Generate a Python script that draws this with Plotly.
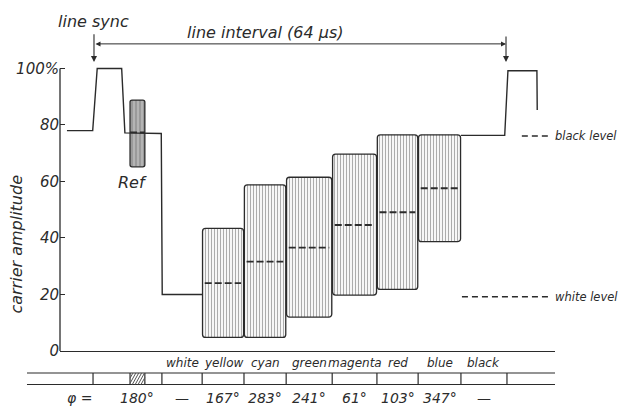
import plotly.graph_objects as go

# time along the line in microseconds, amplitude in % of peak carrier
sig_t = [-4.2, -0.2, 0.5, 4.3, 4.8, 10.45, 10.6, 16.8, None, 57.0, 63.8, 64.3, 68.8, 68.85]
sig_a = [78, 78, 100, 100, 77.2, 77.0, 20, 20, None, 76.3, 76.3, 99.2, 99.2, 85.3]

# segment edges: sync, burst, gap, white, yellow ... blue, black, next sync
edges = [-0.15, 5.6, 7.9, 10.55, 16.8, 23.3, 29.85, 37.0, 43.95, 50.35, 57.0, 64.15]

bar_names = ['yellow', 'cyan', 'green', 'magenta', 'red', 'blue']
bar_top = [43.4, 58.8, 61.5, 69.7, 76.5, 76.5]
bar_bottom = [4.8, 4.8, 12.0, 19.8, 21.8, 38.7]
bar_mid = [24.0, 31.6, 36.6, 44.6, 49.1, 57.6]

ref_top = 88.8
ref_bottom = 65.2
ref_mid = 77.4

cell_names = ['white', 'yellow', 'cyan', 'green', 'magenta', 'red', 'blue', 'black']
# burst, then white ... black
phases = ['180°', '—', '167°', '283°', '241°', '61°', '103°', '347°', '—']

y_ticks = [0, 20, 40, 60, 80, 100]
y_ticktext = ['0', '20', '40', '60', '80', '100%']

black_level = 76.1
white_level = 19.2
line_period = 64

INK = '#2b2b2b'
FONT = 'DejaVu Sans'


def tfont(size):
    return dict(family=FONT, size=size, color=INK, style='italic')


def cell_mid(i):
    return (edges[i] + edges[i + 1]) / 2


fig = go.Figure()

# the video signal itself
fig.add_trace(go.Scatter(x=sig_t, y=sig_a, mode='lines',
                         line=dict(color=INK, width=1.4), hoverinfo='skip'))

# colour bars (carrier envelope, vertical hatching)
lefts = edges[4:10]
rights = edges[5:11]
fig.add_trace(go.Bar(
    x=[(l + r) / 2 for l, r in zip(lefts, rights)],
    width=[r - l - 0.12 for l, r in zip(lefts, rights)],
    base=bar_bottom,
    y=[t - b for t, b in zip(bar_top, bar_bottom)],
    marker=dict(color='white', cornerradius=3,
                line=dict(color=INK, width=1.3),
                pattern=dict(shape='|', size=3, solidity=0.33,
                             fgcolor='#5e5e5e', bgcolor='#f7f7f7')),
    hoverinfo='skip'))

# reference burst
fig.add_trace(go.Bar(
    x=[cell_mid(1)], width=[edges[2] - edges[1]],
    base=[ref_bottom], y=[ref_top - ref_bottom],
    marker=dict(color='#9a9a9a', cornerradius=2,
                line=dict(color=INK, width=1.3),
                pattern=dict(shape='|', size=4, solidity=0.3,
                             fgcolor='#f2f2f2', bgcolor='#9a9a9a')),
    hoverinfo='skip'))

# dashed mean (luminance) levels
dx, dy = [], []
for l, r, m in zip(lefts, rights, bar_mid):
    dx += [l + 0.4, r - 0.45, None]
    dy += [m, m, None]
dx += [edges[1], edges[2], None]
dy += [ref_mid, ref_mid, None]
fig.add_trace(go.Scatter(x=dx, y=dy, mode='lines',
                         line=dict(color=INK, width=1.8, dash='7px,3px'),
                         hoverinfo='skip'))

shapes = []
# y axis line only up to 100 %
shapes.append(dict(type='line', xref='paper', yref='y', x0=0, x1=0, y0=0, y1=100,
                   line=dict(color=INK, width=1.3)))

# table under the chart
tab_top, tab_bot = -0.0641, -0.0977
for yy in (tab_top, tab_bot):
    shapes.append(dict(type='line', xref='paper', yref='paper', x0=-0.0667, x1=1.0,
                       y0=yy, y1=yy, line=dict(color=INK, width=1.2)))
for e in edges:
    shapes.append(dict(type='line', xref='x', yref='paper', x0=e, x1=e,
                       y0=tab_top, y1=tab_bot, line=dict(color=INK, width=1.2)))

# hatching of the burst cell
L, R = edges[1], edges[2]
d = 1.0
x0 = L - d
while x0 < R:
    s0 = max(0, (L - x0) / d)
    s1 = min(1, (R - x0) / d)
    if s1 > s0:
        shapes.append(dict(type='line', xref='x', yref='paper',
                           x0=x0 + d * s0, x1=x0 + d * s1,
                           y0=tab_bot + (tab_top - tab_bot) * s0,
                           y1=tab_bot + (tab_top - tab_bot) * s1,
                           line=dict(color='#555', width=1)))
    x0 += 0.45

# black / white level keys
shapes.append(dict(type='line', xref='paper', yref='y', x0=0.933, x1=0.992,
                   y0=black_level, y1=black_level,
                   line=dict(color=INK, width=1.3, dash='6px,4px')))
shapes.append(dict(type='line', xref='paper', yref='y', x0=0.812, x1=0.992,
                   y0=white_level, y1=white_level,
                   line=dict(color=INK, width=1.3, dash='6px,4px')))

ann = []
ann.append(dict(x=0.996, y=black_level, xref='paper', yref='y', text='black level',
                showarrow=False, xanchor='left', yanchor='middle', font=tfont(11.5)))
ann.append(dict(x=0.996, y=white_level, xref='paper', yref='y', text='white level',
                showarrow=False, xanchor='left', yanchor='middle', font=tfont(11.5)))

# arrows for line sync and line interval
for xa, top in ((0, 112.6), (line_period, 111.8)):
    ann.append(dict(x=xa, y=102.3, ax=xa, ay=top, xref='x', yref='y', axref='x', ayref='y',
                    text='', showarrow=True, arrowhead=2, arrowsize=1.1, arrowwidth=1.1,
                    arrowcolor=INK, standoff=0))
ann.append(dict(x=line_period, y=108.7, ax=0, ay=108.7, xref='x', yref='y', axref='x',
                ayref='y', text='', showarrow=True, arrowhead=2, arrowside='end+start',
                arrowsize=1.0, arrowwidth=1.0, arrowcolor=INK, standoff=0, startstandoff=0,
                startarrowhead=2, startarrowsize=1.0))
ann.append(dict(x=0, y=116.6, xref='x', yref='y', text='line sync', showarrow=False,
                xanchor='center', yanchor='middle', font=tfont(16)))
ann.append(dict(x=26.6, y=112.6, xref='x', yref='y', text='line interval (64 µs)',
                showarrow=False, xanchor='center', yanchor='middle', font=tfont(16)))
ann.append(dict(x=5.98, y=59.5, xref='x', yref='y', text='Ref', showarrow=False,
                xanchor='center', yanchor='middle', font=tfont(16)))
ann.append(dict(x=-0.087, y=38, xref='paper', yref='y', text='carrier amplitude',
                textangle=-90, showarrow=False, xanchor='center', yanchor='middle',
                font=tfont(16)))

# colour names and phase angles in the table
for i, name in enumerate(cell_names):
    ann.append(dict(x=cell_mid(3 + i), y=-0.035, xref='x', yref='paper',
                    text=name, showarrow=False, xanchor='center', yanchor='middle',
                    font=tfont(12)))
ann.append(dict(x=-2.2, y=-0.137, xref='x', yref='paper', text='φ =', showarrow=False,
                xanchor='center', yanchor='middle', font=tfont(14)))
for i, ph in enumerate(phases):
    ann.append(dict(x=cell_mid(1) if i == 0 else cell_mid(2 + i),
                    y=-0.137, xref='x', yref='paper', text=ph, showarrow=False,
                    xanchor='center', yanchor='middle', font=tfont(14)))

# the page body adds an 8 px offset, so the figure is 8 px smaller on each axis
fig.update_layout(
    width=621, height=398,
    margin=dict(l=52, r=74, t=0, b=55),
    paper_bgcolor='white', plot_bgcolor='white',
    showlegend=False, barmode='overlay',
    shapes=shapes, annotations=ann,
    xaxis=dict(range=[-5.28, 71.61], showgrid=False, zeroline=False, showticklabels=False,
               ticks='', showline=True, linecolor=INK, linewidth=1.3),
    yaxis=dict(range=[0, 121.4], showgrid=False, zeroline=False, showline=False,
               tickvals=y_ticks, ticktext=y_ticktext, ticks='inside', ticklen=5,
               tickwidth=1.2, tickcolor=INK, tickfont=tfont(15)),
)

fig.write_html("out.html")
